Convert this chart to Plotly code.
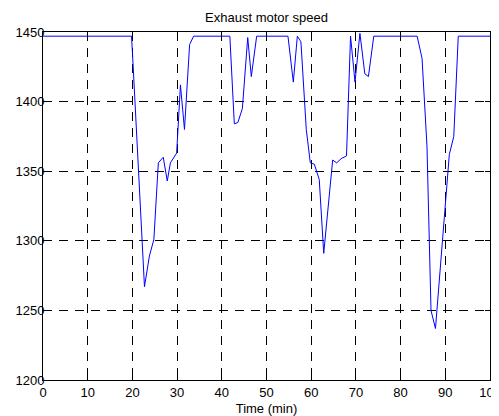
import plotly.graph_objects as go

# Time (min)
time_min = [0, 19.8, 20.0, 22.7, 23.8, 24.8, 25.8, 26.9, 27.8, 28.5, 29.9, 30.2,
            30.75, 31.65, 32.8, 33.7, 41.8, 42.8, 43.6, 44.6, 45.8, 46.6, 47.8,
            54.8, 56.0, 56.9, 57.7, 58.9, 59.8, 60.7, 61.8, 62.8, 64.8, 65.7,
            66.7, 67.9, 68.8, 69.8, 70.9, 72.0, 72.8, 74.0, 83.7, 84.8, 85.9,
            86.8, 87.8, 90.9, 91.9, 92.9, 100]
# Exhaust motor speed
speed = [1447, 1447, 1436, 1267, 1289, 1301, 1356, 1360, 1343, 1356, 1363, 1382,
         1412, 1380, 1441, 1447, 1447, 1384, 1385, 1395, 1446, 1418, 1447,
         1447, 1414, 1447, 1443, 1380, 1356, 1355, 1344, 1291, 1358, 1356,
         1359, 1361, 1447, 1414, 1449, 1420, 1418, 1447, 1447, 1431, 1368,
         1250, 1237, 1362, 1375, 1447, 1447]

x_ticks = [0, 10, 20, 30, 40, 50, 60, 70, 80, 90, 100]
y_ticks = [1200, 1250, 1300, 1350, 1400, 1450]

FONT = "Liberation Sans, Arial, Helvetica, sans-serif"

# the page body adds an 8px margin on the left and top
W, H = 491, 408

fig = go.Figure()
fig.add_trace(go.Scatter(x=time_min, y=speed, mode="lines",
                         line=dict(color="#0000ff", width=1),
                         showlegend=False, hoverinfo="skip"))

axis_common = dict(
    showline=True, linecolor="black", linewidth=1, mirror="ticks",
    ticks="inside", ticklen=5, tickcolor="black", tickwidth=1,
    showgrid=True, gridcolor="black", gridwidth=1, griddash="9px,7px",
    zeroline=False, automargin=False, ticklabeloverflow="allow",
    tickfont=dict(family=FONT, size=13, color="black"),
)

fig.update_layout(
    width=W, height=H,
    margin=dict(l=35, r=9, t=24, b=36, pad=0),
    paper_bgcolor="white", plot_bgcolor="white",
    font=dict(family=FONT, size=13, color="black"),
    title=dict(text="Exhaust motor speed", x=0.5, xref="paper",
               y=1 - 9 / H, yref="container", yanchor="middle",
               font=dict(family=FONT, size=13, color="black")),
    xaxis=dict(range=[0, 100], tickvals=x_ticks, ticktext=[str(v) for v in x_ticks],
               title=dict(text="Time (min)", standoff=11,
                          font=dict(family=FONT, size=13, color="black")),
               **axis_common),
    yaxis=dict(range=[1200, 1450], tickvals=y_ticks, ticktext=[str(v) for v in y_ticks],
               ticklabelstandoff=-5,
               **axis_common),
)

fig.write_html("out.html")
